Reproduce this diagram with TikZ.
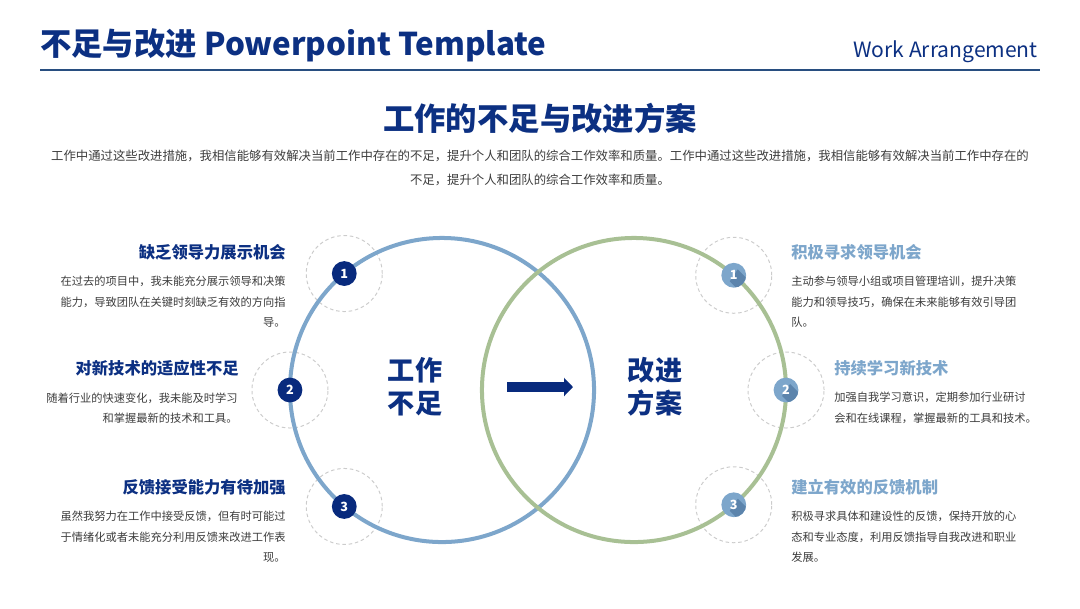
\documentclass[tikz,border=0pt]{standalone}
\usepackage{fontspec}
\setmainfont{Noto Sans CJK SC}
\usetikzlibrary{
    arrows.meta,
    positioning,
    backgrounds
}
\definecolor{deepblue}{RGB}{12,48,130}
\definecolor{nodeblue}{RGB}{8,42,125}
\definecolor{ruleblue}{RGB}{40,78,128}
\definecolor{ringblue}{RGB}{125,166,203}
\definecolor{ringgreen}{RGB}{168,192,148}
\definecolor{softblue}{RGB}{125,166,203}
\definecolor{shadeblue}{RGB}{92,132,172}
\definecolor{bodygray}{RGB}{60,60,60}
\tikzset{
  ltitle/.style = {anchor=east, inner sep=0pt, text=deepblue,
                   font=\bfseries\fontsize{11.6}{14}\selectfont},
  rtitle/.style = {anchor=west, inner sep=0pt, text=softblue,
                   font=\bfseries\fontsize{11.6}{14}\selectfont},
  lbody/.style  = {anchor=east, inner sep=0pt, align=right, text=bodygray,
                   font=\fontsize{8}{14.6}\selectfont},
  rbody/.style  = {anchor=west, inner sep=0pt, align=left, text=bodygray,
                   font=\fontsize{8}{14.6}\selectfont}
}

\begin{document}
\begin{tikzpicture}[
  x=0.025cm, y=-0.025cm,
  ring/.style={
    circle, line width=2.85pt, outer sep=0pt, minimum size=7.6cm},
  halo/.style={
    circle, draw=gray!40, dash pattern=on 2.5pt off 2pt, line width=0.7pt,
    minimum size=1.9cm},
  numl/.style={
    circle, fill=nodeblue, text=white, inner sep=0pt, minimum size=0.62cm,
    font=\bfseries\fontsize{9}{9}\selectfont},
  numr/.style={
    circle, fill=softblue, text=white, inner sep=0pt, minimum size=0.62cm,
    font=\bfseries\fontsize{9}{9}\selectfont,
    path picture={
      \fill[shadeblue] ([shift={(0.1cm,0.15cm)}]path picture bounding box.center)
        -- ++(0.75cm,-0.75cm) -- ++(-0.2cm,-0.3cm)
        -- ([shift={(-0.1cm,-0.15cm)}]path picture bounding box.center) -- cycle;}},
  core/.style={
    text=deepblue, align=center, inner sep=0pt,
    font=\bfseries\fontsize{19.3}{23.5}\selectfont},
  bigarr/.style={-{Triangle[length=6.4pt,width=12.8pt]}, line width=7.1pt, nodeblue}
]
\useasboundingbox (0,0) rectangle (1080,608);

%% header
\node[anchor=west, inner sep=0pt, text=deepblue,
      font=\bfseries\fontsize{22.3}{26}\selectfont] (title) at (40,45)
      {不足与改进 Powerpoint Template};
\node[anchor=east, inner sep=0pt, text=deepblue,
      font=\fontsize{15}{18}\selectfont] (tag) at (1038,52) {Work Arrangement};
\coordinate (rulel) at (40,70);
\coordinate (ruler) at (1040,70);
\draw[ruleblue, line width=1.6pt] (rulel) -- (ruler);

\node[text=deepblue, inner sep=0pt,
      font=\bfseries\fontsize{22.3}{26}\selectfont] (head) at (540,118)
      {工作的不足与改进方案};
\node[text=bodygray, align=center, inner sep=0pt,
      font=\fontsize{8.8}{17}\selectfont] (intro) at (540,168)
      {工作中通过这些改进措施，我相信能够有效解决当前工作中存在的不足，提升个人和团队的综合工作效率和质量。工作中通过这些改进措施，我相信能够有效解决当前工作中存在的\\
       不足，提升个人和团队的综合工作效率和质量。};

%% two circles
\node[ring, draw=ringblue]  (work) at (442,390) {};
\node[ring, draw=ringgreen] (plan) at (634,390) {};

\node[core] (worklbl) at (415,387) {工作\\不足};
\node[core] (planlbl) at (655,387) {改进\\方案};

\coordinate (arrs) at (507,387);
\coordinate (arre) at (573,387);
\draw[bigarr] (arrs) -- (arre);

%% numbered points
\node[numl] (w1) at (work.130) {1};
\node[numl] (w2) at (work.180) {2};
\node[numl] (w3) at (work.230) {3};
\node[numr] (p1) at (plan.49)  {1};
\node[numr] (p2) at (plan.0)   {2};
\node[numr] (p3) at (plan.-49) {3};

\begin{scope}[on background layer]
  \foreach \n in {w1,w2,w3,p1,p2,p3}
    \node[halo] at (\n) {};
\end{scope}

%% left texts
\node[ltitle] (wt1) at (286,252) {缺乏领导力展示机会};
\node[lbody]  (wb1) at (286,302) {在过去的项目中，我未能充分展示领导和决策\\能力，导致团队在关键时刻缺乏有效的方向指\\导。};
\node[ltitle] (wt2) at (239,368) {对新技术的适应性不足};
\node[lbody]  (wb2) at (238,408) {随着行业的快速变化，我未能及时学习\\和掌握最新的技术和工具。};
\node[ltitle] (wt3) at (286,487) {反馈接受能力有待加强};
\node[lbody]  (wb3) at (286,537) {虽然我努力在工作中接受反馈，但有时可能过\\于情绪化或者未能充分利用反馈来改进工作表\\现。};

%% right texts
\node[rtitle] (pt1) at (791,252) {积极寻求领导机会};
\node[rbody]  (pb1) at (791,302) {主动参与领导小组或项目管理培训，提升决策\\能力和领导技巧，确保在未来能够有效引导团\\队。};
\node[rtitle] (pt2) at (834,368) {持续学习新技术};
\node[rbody]  (pb2) at (834,408) {加强自我学习意识，定期参加行业研讨\\会和在线课程，掌握最新的工具和技术。};
\node[rtitle] (pt3) at (791,487) {建立有效的反馈机制};
\node[rbody]  (pb3) at (791,537) {积极寻求具体和建设性的反馈，保持开放的心\\态和专业态度，利用反馈指导自我改进和职业\\发展。};

\end{tikzpicture}
\end{document}
